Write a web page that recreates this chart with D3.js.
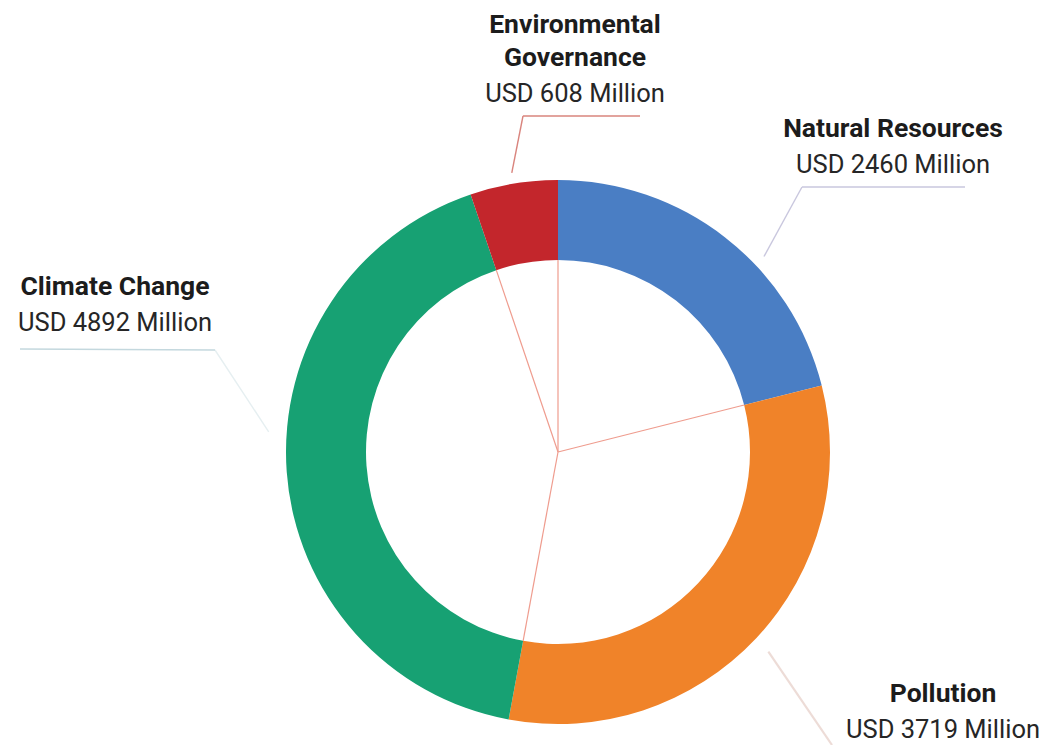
<!DOCTYPE html>
<html lang="en">
<head>
  <meta charset="UTF-8">
  <title>Funding by Theme</title>
  <script src="https://d3js.org/d3.v7.min.js"></script>
  <style>
    body {
      margin: 0;
      padding: 0;
      background: #fff;
      font-family: Roboto, "Noto Sans", Arial, sans-serif;
    }
  </style>
</head>
<body>
  <div id="chart"></div>
  <script>
    // chart data
    const categories = ["Natural Resources", "Pollution", "Climate Change", "Environmental Governance"];
    const values = [2460, 3719, 4892, 608];
    const colors = ["#4a7ec4", "#f08329", "#17a173", "#c3262c"];
    const titleLines = [["Natural Resources"], ["Pollution"], ["Climate Change"], ["Environmental", "Governance"]];
    const valueLabels = values.map(v => `USD ${v} Million`);

    const width = 1053;
    const height = 745;
    const cx = 558, cy = 452;
    const outerR = 272, innerR = 192;

    // label placement: text centre x, first baseline y, leader angle (deg), elbow, end, colours
    const layout = [
      { x: 893, y: 137, angle: 46.5, leadR: 284, elbow: [802, 187], end: [965, 187], diag: "#c9c7de", flat: "#c9c7de" },
      { x: 943, y: 702, angle: 133.5, leadR: 290, elbow: [832, 745], end: null, diag: "#eddcd7", flat: null },
      { x: 115, y: 295, angle: 274, leadR: 290, elbow: [215, 350], end: [20, 349], diag: "#e6eff1", flat: "#c4d8de" },
      { x: 575, y: 33, angle: -9.4, leadR: 283, elbow: [523, 116], end: [640, 116], diag: "#d9847d", flat: "#d9847d" }
    ];

    const svg = d3.select("#chart").append("svg")
      .attr("width", width)
      .attr("height", height);

    const pie = d3.pie().sort(null).value(d => d);
    const arcs = pie(values);

    const arc = d3.arc().innerRadius(innerR).outerRadius(outerR);

    const g = svg.append("g").attr("transform", `translate(${cx},${cy})`);

    g.selectAll("path.slice")
      .data(arcs)
      .join("path")
      .attr("class", "slice")
      .attr("d", arc)
      .attr("fill", (d, i) => colors[i]);

    // thin radial lines inside the hole, on each slice boundary
    g.selectAll("line.spoke")
      .data(arcs)
      .join("line")
      .attr("class", "spoke")
      .attr("x1", 0).attr("y1", 0)
      .attr("x2", d => innerR * Math.sin(d.startAngle))
      .attr("y2", d => -innerR * Math.cos(d.startAngle))
      .attr("stroke", "#ef9c8e")
      .attr("stroke-width", 1.2);

    // leader lines
    const line = d3.line();
    layout.forEach(l => {
      const a = l.angle * Math.PI / 180;
      const start = [cx + l.leadR * Math.sin(a), cy - l.leadR * Math.cos(a)];
      svg.append("path")
        .attr("d", line([start, l.elbow]))
        .attr("fill", "none")
        .attr("stroke", l.diag)
        .attr("stroke-width", l.flat ? 1.4 : 2.2);
      if (l.end) {
        svg.append("path")
          .attr("d", line([l.elbow, l.end]))
          .attr("fill", "none")
          .attr("stroke", l.flat)
          .attr("stroke-width", 1.6);
      }
    });

    // labels
    categories.forEach((c, i) => {
      const l = layout[i];
      const t = svg.append("text")
        .attr("text-anchor", "middle")
        .attr("x", l.x)
        .attr("y", l.y);
      titleLines[i].forEach((ln, k) => {
        t.append("tspan")
          .attr("x", l.x)
          .attr("dy", k === 0 ? 0 : 33)
          .attr("font-weight", 700)
          .attr("font-size", 26.5)
          .attr("fill", "#1c1c1c")
          .text(ln);
      });
      t.append("tspan")
        .attr("x", l.x)
        .attr("dy", 36)
        .attr("font-size", 25.5)
        .attr("fill", "#262626")
        .text(valueLabels[i]);
    });
  </script>
</body>
</html>
